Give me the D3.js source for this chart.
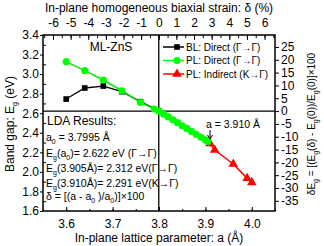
<!DOCTYPE html>
<html>
<head>
<meta charset="utf-8">
<script src="https://cdn.jsdelivr.net/npm/d3@7"></script>
<style>
  body { margin: 0; background: #fff; }
  svg { font-family: "Liberation Sans", Arial, sans-serif; }
</style>
</head>
<body>
<svg id="chart" width="324" height="246"></svg>
<script>
// lattice parameter (Å) and band gap (eV)
var blA = [3.60, 3.64, 3.68, 3.72, 3.76, 3.80];
var blE = [2.745, 2.858, 2.878, 2.820, 2.718, 2.625];

var plDirA = [3.60, 3.64, 3.68, 3.72, 3.76, 3.79, 3.80, 3.81, 3.82, 3.83, 3.84, 3.85, 3.86, 3.87, 3.88, 3.89, 3.90, 3.905];
var plDirE = [3.127, 3.035, 2.940, 2.830, 2.711, 2.643, 2.622, 2.590, 2.562, 2.533, 2.503, 2.472, 2.445, 2.414, 2.384, 2.356, 2.327, 2.312];

var plIndA = [3.91, 3.92, 3.96, 3.99, 4.00];
var plIndE = [2.291, 2.224, 2.081, 1.934, 1.893];

var bottomTicks = [3.6, 3.7, 3.8, 3.9, 4.0];
var leftTicks = [1.6, 1.8, 2.0, 2.2, 2.4, 2.6, 2.8, 3.0, 3.2, 3.4];
var topTicks = [-6, -5, -4, -3, -2, -1, 0, 1, 2, 3, 4, 5, 6];
var rightTicks = [25, 20, 15, 10, 5, 0, -5, -10, -15, -20, -25, -30, -35];

var a0 = 3.7995, E0 = 2.622;

var svg = d3.select("#chart");
var L = 43, R = 275, T = 35, B = 211;

var x = d3.scaleLinear().domain([3.55, 4.05]).range([L, R]);
var y = d3.scaleLinear().domain([1.6, 3.4]).range([B, T]);
var xTop = d3.scaleLinear().domain([(3.55 / a0 - 1) * 100, (4.05 / a0 - 1) * 100]).range([L, R]);
var yRight = d3.scaleLinear().domain([(1.6 / E0 - 1) * 100, (3.4 / E0 - 1) * 100]).range([B, T]);

// plain hyphen minus like the original plot
var intFmt = function(d) { return String(d); };

function styleAxis(g) {
   g.select(".domain").remove();
   g.selectAll("line").attr("stroke", "#000").attr("stroke-width", 1);
   g.selectAll("text").attr("font-size", "12px").attr("fill", "#000");
}

// bottom axis: major + minor, inward
svg.append("g").attr("transform", "translate(0," + B + ")")
   .call(d3.axisBottom(x).tickValues(d3.range(3.55, 4.051, 0.05)).tickSize(-2).tickFormat(""))
   .call(styleAxis);
svg.append("g").attr("transform", "translate(0," + B + ")")
   .call(d3.axisBottom(x).tickValues(bottomTicks).tickSize(-4).tickPadding(8).tickFormat(d3.format(".1f")))
   .call(styleAxis);

// left axis
svg.append("g").attr("transform", "translate(" + L + ",0)")
   .call(d3.axisLeft(y).tickValues(d3.range(1.7, 3.4, 0.2)).tickSize(-3).tickFormat(""))
   .call(styleAxis);
svg.append("g").attr("transform", "translate(" + L + ",0)")
   .call(d3.axisLeft(y).tickValues(leftTicks).tickSize(3).tickPadding(1).tickFormat(d3.format(".1f")))
   .call(styleAxis);

// top axis
svg.append("g").attr("transform", "translate(0," + T + ")")
   .call(d3.axisTop(xTop).tickValues(d3.range(-6.5, 6.6, 0.5)).tickSize(-3).tickFormat(""))
   .call(styleAxis);
svg.append("g").attr("transform", "translate(0," + T + ")")
   .call(d3.axisTop(xTop).tickValues(topTicks).tickSize(-5).tickPadding(8).tickFormat(intFmt))
   .call(styleAxis);

// right axis
svg.append("g").attr("transform", "translate(" + R + ",0)")
   .call(d3.axisRight(yRight).tickValues(rightTicks).tickSize(4).tickPadding(2).tickFormat(intFmt))
   .call(styleAxis);

// frame
svg.append("rect").attr("x", L).attr("y", T).attr("width", R - L).attr("height", B - T)
   .attr("fill", "none").attr("stroke", "#000").attr("stroke-width", 1.5);

// crosshair at a0, E0
svg.append("line").attr("x1", x(a0)).attr("x2", x(a0)).attr("y1", T).attr("y2", B)
   .attr("stroke", "#000").attr("stroke-width", 1.3);
svg.append("line").attr("x1", L).attr("x2", R).attr("y1", y(E0)).attr("y2", y(E0))
   .attr("stroke", "#000").attr("stroke-width", 1.3);

var line = d3.line().x(function(d) { return x(d[0]); }).y(function(d) { return y(d[1]); });
function pairs(a, e) { return a.map(function(v, i) { return [v, e[i]]; }); }

var bl = pairs(blA, blE), pd = pairs(plDirA, plDirE), pi = pairs(plIndA, plIndE);
var sq = d3.symbol().type(d3.symbolSquare).size(32);
var tri = d3.symbol().type(d3.symbolTriangle).size(40);

svg.append("path").attr("d", line(bl)).attr("fill", "none").attr("stroke", "#000").attr("stroke-width", 1.3);
svg.selectAll(".bl").data(bl).enter().append("path")
   .attr("transform", function(d) { return "translate(" + x(d[0]) + "," + y(d[1]) + ")"; })
   .attr("d", sq).attr("fill", "#000");

svg.append("path").attr("d", line(pi)).attr("fill", "none").attr("stroke", "#ff0000").attr("stroke-width", 1.5);
svg.selectAll(".pi").data(pi).enter().append("path")
   .attr("transform", function(d) { return "translate(" + x(d[0]) + "," + y(d[1]) + ")"; })
   .attr("d", tri).attr("fill", "#ff0000");

svg.append("path").attr("d", line(pd)).attr("fill", "none").attr("stroke", "#00ee00").attr("stroke-width", 1.5);
svg.selectAll(".pd").data(pd).enter().append("circle")
   .attr("cx", function(d) { return x(d[0]); }).attr("cy", function(d) { return y(d[1]); })
   .attr("r", 3.6).attr("fill", "#00ff00");

// legend
var legend = [
   { label: "BL: Direct (\u0393\u2192\u0393)", color: "#000", shape: "square" },
   { label: "PL: Direct (\u0393\u2192\u0393)", color: "#00ff00", shape: "circle" },
   { label: "PL: Indirect (K\u2192\u0393)", color: "#ff0000", shape: "triangle" }
];
var lg = svg.selectAll(".legend").data(legend).enter().append("g")
   .attr("transform", function(d, i) { return "translate(163," + (47 + i * 13.5) + ")"; });
lg.append("line").attr("x1", 0).attr("x2", 21).attr("y1", 0).attr("y2", 0)
   .attr("stroke", function(d) { return d.color; }).attr("stroke-width", 1.5);
lg.each(function(d) {
   var c = d3.select(this);
   if (d.shape == "circle") c.append("circle").attr("cx", 14).attr("r", 3.6).attr("fill", d.color);
   else c.append("path").attr("transform", "translate(14,0)")
      .attr("d", d.shape == "square" ? sq : tri).attr("fill", d.color);
});
lg.append("text").attr("x", 23).attr("dy", "0.35em").attr("font-size", "10px").text(function(d) { return d.label; });

svg.append("text").attr("x", 111).attr("y", 51).attr("text-anchor", "middle").attr("font-size", "12px").text("ML-ZnS");

// LDA results block
svg.append("text").attr("x", 47).attr("y", 125).attr("font-size", "12px").text("LDA Results:");

function sub(t, parts, fs) {
   parts.forEach(function(p) {
      if (p.s) t.append("tspan").attr("font-size", "7px").attr("dy", 3).text(p.s);
      else t.append("tspan").attr("font-size", fs).attr("dy", p.back ? -3 : 0).text(p.t);
   });
}
var ldaLines = [
   [{ t: "a" }, { s: "0" }, { t: " = 3.7995 \u00c5", back: true }],
   [{ t: "E" }, { s: "g" }, { t: "(a", back: true }, { s: "0" }, { t: ")= 2.622 eV (\u0393\u2192\u0393)", back: true }],
   [{ t: "E" }, { s: "g" }, { t: "(3.905\u00c5)= 2.312 eV(\u0393\u2192\u0393)", back: true }],
   [{ t: "E" }, { s: "g" }, { t: "(3.910\u00c5)= 2.291 eV(K\u2192\u0393)", back: true }],
   [{ t: "\u03b4 = [(a - a" }, { s: "0" }, { t: " )/a", back: true }, { s: "0" }, { t: ")]\u00d7100", back: true }]
];
var ldaY = [141, 157, 172, 187, 200];
ldaLines.forEach(function(parts, i) {
   var t = svg.append("text").attr("x", 46).attr("y", ldaY[i]).attr("font-size", "10.5px");
   sub(t, parts, "10.5px");
});

// a = 3.910 annotation
svg.append("text").attr("x", 206).attr("y", 128).attr("font-size", "10.5px").text("a = 3.910 \u00c5");
svg.append("line").attr("x1", x(3.91)).attr("x2", x(3.91)).attr("y1", 130).attr("y2", 139)
   .attr("stroke", "#000").attr("stroke-width", 1);
svg.append("path").attr("d", "M" + (x(3.91) - 2.5) + ",135L" + x(3.91) + ",139L" + (x(3.91) + 2.5) + ",135")
   .attr("fill", "none").attr("stroke", "#000").attr("stroke-width", 1);

// axis titles
svg.append("text").attr("x", 159).attr("y", 12).attr("text-anchor", "middle").attr("font-size", "12px")
   .text("In-plane homogeneous biaxial strain: \u03b4 (%)");
svg.append("text").attr("x", 159).attr("y", 242).attr("text-anchor", "middle").attr("font-size", "12px")
   .text("In-plane lattice parameter: a (\u00c5)");

var lt = svg.append("text").attr("transform", "translate(14,124) rotate(-90)").attr("text-anchor", "middle").attr("font-size", "12px");
sub(lt, [{ t: "Band gap: E" }, { s: "g" }, { t: " (eV)", back: true }], "12px");

var rt = svg.append("text").attr("transform", "translate(315,124) rotate(-90)").attr("text-anchor", "middle").attr("font-size", "10px");
sub(rt, [{ t: "\u03b4E" }, { s: "g" }, { t: " = [(E", back: true }, { s: "g" }, { t: "(\u03b4) - E", back: true }, { s: "g" },
   { t: "(0))/E", back: true }, { s: "g" }, { t: "(0)]\u00d7100", back: true }], "10px");
</script>
</body>
</html>
